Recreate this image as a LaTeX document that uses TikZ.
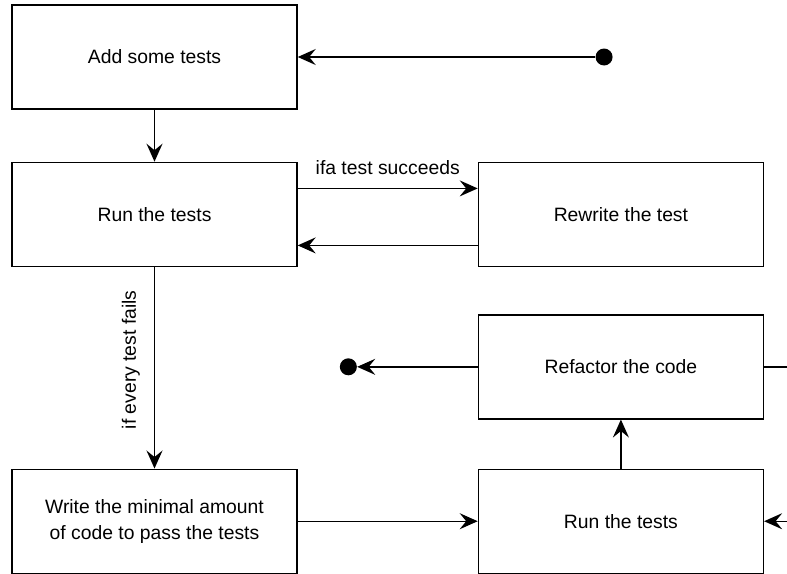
\documentclass[tikz,border=0pt]{standalone}
\usepackage{fontspec}
\setmainfont{Liberation Sans}
\usepackage{tikz}
\usetikzlibrary{arrows.meta,positioning}

\begin{document}
\begin{tikzpicture}[
    block/.style={draw=black, fill=white, line width=0.8pt,
        minimum width=5.7cm, minimum height=2.08cm, align=center,
        font=\fontsize{11}{15}\selectfont},
    dot/.style={circle, fill=black, inner sep=0pt, minimum size=0.34cm},
    flow/.style={draw=black, line width=0.8pt,
        -{Stealth[length=3.6mm, width=3.2mm, inset=1.3mm]}},
    lbl/.style={font=\fontsize{11}{13}\selectfont}
]
\useasboundingbox (0,0) rectangle (15.74,-11.46);

\node[block] (tests) at (3.09,-1.14) {Add some tests};
\node[block, below=1.04cm of tests] (run) {Run the tests};
\node[block, right=3.6cm of run] (rewrite) {Rewrite the test};
\node[block, below=0.94cm of rewrite] (refactor) {Refactor the code};
\node[block, below=0.98cm of refactor] (rerun) {Run the tests};
\node[block, left=3.6cm of rerun] (minimal) {Write the minimal amount\\of code to pass the tests};

\node[dot, right=5.95cm of tests] (start) {};
\node[dot, left=2.41cm of refactor] (stop) {};
\coordinate[right=0.8cm of refactor] (outa);
\coordinate[right=0.8cm of rerun] (outb);

% main loop
\draw[flow] (start) -- (tests);
\draw[flow] (tests) -- (run);
\draw[flow] ([yshift=0.52cm]run.east) -- ([yshift=0.52cm]rewrite.west)
    node[lbl, midway, above=0.14cm] {ifa test succeeds};
\draw[flow] ([yshift=-0.62cm]rewrite.west) -- ([yshift=-0.62cm]run.east);
\draw[flow] (run) -- (minimal)
    node[lbl, midway, rotate=90, anchor=south, xshift=0.16cm, yshift=0.16cm] {if every test fails};
\draw[flow] (minimal) -- (rerun);
\draw[flow] (rerun) -- (refactor);
\draw[flow] (refactor) -- (stop);

% off to the right
\draw[line width=0.8pt] (refactor.east) -- (outa);
\draw[flow] (outb) -- (rerun.east);
\end{tikzpicture}
\end{document}
